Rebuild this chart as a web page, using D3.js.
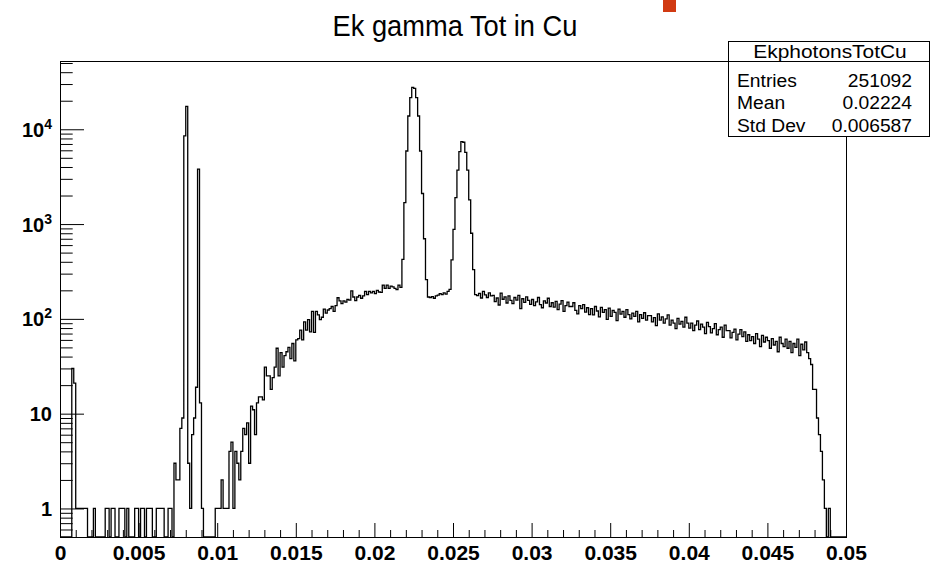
<!DOCTYPE html>
<html>
<head>
<meta charset="utf-8">
<script src="https://cdn.jsdelivr.net/npm/d3@7"></script>
<style>
  html, body { margin: 0; padding: 0; background: #fff; }
  svg { display: block; font-family: "Liberation Sans", Arial, Helvetica, sans-serif; }
</style>
</head>
<body>
<svg id="chart" width="930" height="564"></svg>
<script>
// ---- histogram definition -------------------------------------------------
const histTitle = "Ek gamma Tot in Cu";
const xRange = [0, 0.05];          // axis range of the histogram
const yRange = [0.5, 52500];       // log-scale display range

// bin contents, 400 equal bins over xRange
const counts = [
  // 0 - 57
  0, 0, 0, 0, 0, 0, 30, 21, 1, 1, 1, 1, 1, 1, 0, 0, 0, 1, 0, 0,
  0, 0, 0, 1, 1, 0, 1, 1, 0, 0, 1, 1, 1, 0, 1, 0, 0, 0, 1, 1,
  0, 1, 1, 0, 1, 1, 1, 0, 0, 1, 1, 1, 1, 0, 0, 1, 1, 0,
  // 58 - 72 : first narrow lines
  3, 2, 2, 7, 9, 8500, 17400, 3, 1, 6, 9, 19, 3800, 13, 1,
  // 73 - 103
  0, 0, 0, 0, 0, 0, 1, 1, 1, 2, 1, 1, 1,
  4, 5, 1, 4, 3, 2, 4, 7, 6, 8, 3, 12, 11, 6, 13, 15, 15, 14,
  // 104 - 173 : rising continuum
  31, 25, 25, 18, 24, 31, 49, 25, 44, 31, 41, 45, 50, 38, 55, 36, 60, 62, 76, 60,
  93, 76, 98, 73, 120, 72, 120, 110, 98, 104, 127, 115, 124, 128, 135, 120, 138, 167, 155, 145,
  155, 150, 160, 158, 197, 170, 156, 170, 177, 165, 175, 195, 180, 195, 188, 195, 185, 200, 192, 190,
  227, 210, 227, 210, 222, 218, 210, 203, 227, 215,
  // 174 - 186 : K-alpha peak
  424, 1683, 5900, 13800, 21600, 27600, 27000, 21600, 13800, 5900, 2100, 700, 260,
  // 187 - 198
  170, 168, 172, 165, 175, 178, 185, 180, 188, 182, 195, 205,
  // 199 - 211 : K-beta peak
  420, 880, 1900, 3700, 5800, 7400, 7300, 5700, 3700, 1800, 800, 330, 180,
  // 212 - 219
  176, 186, 166, 195, 179, 168, 188, 175,
  // 220 - 379 : falling continuum
  177, 152, 166, 140, 187, 161, 171, 147, 175, 157,
  145, 168, 158, 177, 128, 163, 149, 171, 157, 142,
  160, 138, 151, 168, 141, 131, 155, 147, 165, 135,
  148, 133, 153, 125, 143, 156, 120, 138, 150, 135,
  135, 148, 123, 113, 138, 128, 141, 118, 131, 111,
  128, 110, 135, 121, 105, 132, 117, 125, 99, 130,
  106, 123, 117, 96, 127, 112, 120, 104, 125, 111,
  100, 115, 106, 120, 93, 111, 101, 116, 97, 108,
  108, 93, 103, 85, 113, 97, 105, 90, 100, 110,
  86, 97, 90, 79, 101, 88, 94, 82, 104, 90,
  80, 90, 75, 86, 95, 77, 88, 82, 70, 92,
  83, 71, 79, 89, 68, 77, 82, 64, 86, 75,
  75, 63, 72, 78, 60, 69, 77, 65, 73, 58,
  68, 59, 65, 55, 70, 61, 51, 67, 57, 64,
  59, 49, 62, 53, 58, 45, 64, 55, 51, 61,
  49, 58, 44, 55, 50, 61, 41, 54, 47, 57,
  // 380 - 399 : end-point cut-off
  44, 38, 33, 18, 18, 9, 6, 4, 2, 1, 0, 1, 0, 0, 0, 0, 0, 0, 0, 0
];

// axis ticks
const xMajorTicks = [0, 0.005, 0.01, 0.015, 0.02, 0.025, 0.03, 0.035, 0.04, 0.045, 0.05];
const xTickLabels = ["0", "0.005", "0.01", "0.015", "0.02", "0.025", "0.03", "0.035", "0.04", "0.045", "0.05"];
const yMajorTicks = [1, 10, 100, 1000, 10000];
const yTickBases = ["1", "10", "10", "10", "10"];
const yTickExponents = ["", "", "2", "3", "4"];

// statistics box
const statsName = "EkphotonsTotCu";
const statsLabels = ["Entries", "Mean", "Std Dev"];
const statsValues = ["251092", "0.02224", "0.006587"];

// ---- layout ----------------------------------------------------------------
const svg = d3.select("#chart");
const frame = { left: 60, right: 846, top: 61, bottom: 537 };

const x = d3.scaleLinear().domain(xRange).range([frame.left, frame.right]);
const y = d3.scaleLog().domain(yRange).range([frame.bottom, frame.top]).clamp(true);

// minor tick positions
const xMinorTicks = d3.range(0, 51).map(i => i * 0.001).filter(v => !xMajorTicks.some(m => Math.abs(m - v) < 1e-9));
const yMinorTicks = [];
[0.1, 1, 10, 100, 1000, 10000].forEach(dec => {
  for (let k = 2; k <= 9; k++) {
    const v = dec * k;
    if (v >= yRange[0] && v <= yRange[1] && !yMajorTicks.includes(v)) yMinorTicks.push(v);
  }
});

// frame
svg.append("rect")
  .attr("x", frame.left + 0.5).attr("y", frame.top + 0.5)
  .attr("width", frame.right - frame.left).attr("height", frame.bottom - frame.top)
  .attr("fill", "none").attr("stroke", "#000").attr("stroke-width", 1);

// histogram outline (step line)
const nBins = counts.length;
const binW = (xRange[1] - xRange[0]) / nBins;
const pts = [];
counts.forEach((c, i) => {
  const yy = y(Math.max(c, yRange[0]));
  pts.push([x(xRange[0] + i * binW), yy]);
  pts.push([x(xRange[0] + (i + 1) * binW), yy]);
});
svg.append("path")
  .attr("d", d3.line()(pts))
  .attr("fill", "none")
  .attr("stroke", "#000")
  .attr("stroke-width", 1.3);

// x axis
const gx = svg.append("g").attr("transform", `translate(0,${frame.bottom})`);
gx.call(d3.axisBottom(x).tickValues(xMinorTicks).tickSize(-7).tickSizeOuter(0).tickFormat(""));
gx.append("g").call(d3.axisBottom(x).tickValues(xMajorTicks).tickSize(-14).tickSizeOuter(0)
  .tickFormat((d, i) => xTickLabels[i]));
gx.selectAll("line, path").attr("stroke", "#000");
gx.selectAll("text")
  .attr("y", 23).attr("dy", null)
  .attr("fill", "#000")
  .style("font-size", "21px").style("font-weight", "bold")
  .style("font-family", "'Liberation Sans', Arial, sans-serif");

// y axis
const gy = svg.append("g").attr("transform", `translate(${frame.left},0)`);
gy.call(d3.axisLeft(y).tickValues(yMinorTicks).tickSize(-12.7).tickSizeOuter(0).tickFormat(""));
gy.append("g").call(d3.axisLeft(y).tickValues(yMajorTicks).tickSize(-24).tickSizeOuter(0).tickFormat(""));
gy.selectAll("line, path").attr("stroke", "#000");

// y labels with exponent as superscript
yMajorTicks.forEach((v, i) => {
  const t = svg.append("text")
    .attr("x", 52).attr("y", y(v) + 7.5)
    .attr("text-anchor", "end")
    .style("font-size", "20px").style("font-weight", "bold")
    .attr("fill", "#000");
  t.append("tspan").text(yTickBases[i]);
  if (yTickExponents[i]) {
    t.append("tspan").attr("dy", -8).style("font-size", "14px").text(yTickExponents[i]);
  }
});

// title
svg.append("text")
  .attr("transform", "translate(455,36) scale(0.94,1)")
  .attr("text-anchor", "middle")
  .style("font-size", "29px")
  .attr("fill", "#000")
  .text(histTitle);

// small red marker above the pad
svg.append("rect")
  .attr("x", 663).attr("y", 0).attr("width", 13).attr("height", 12)
  .attr("fill", "#d13a12");

// statistics box
const box = { x: 728.5, y: 41.5, w: 201, h: 95, head: 20 };
svg.append("rect")
  .attr("x", box.x).attr("y", box.y).attr("width", box.w).attr("height", box.h)
  .attr("fill", "#fff").attr("stroke", "#000").attr("stroke-width", 1);
svg.append("line")
  .attr("x1", box.x).attr("x2", box.x + box.w)
  .attr("y1", box.y + box.head).attr("y2", box.y + box.head)
  .attr("stroke", "#000");

function stretched(txt, px, py, anchor, size, sx) {
  svg.append("text")
    .attr("transform", `translate(${px},${py}) scale(${sx},1)`)
    .attr("text-anchor", anchor)
    .style("font-size", size + "px")
    .attr("fill", "#000")
    .text(txt);
}
stretched(statsName, box.x + box.w / 2 + 1, 58, "middle", 19, 1.1);
statsLabels.forEach((lab, i) => {
  const base = 86.5 + i * 22.5;
  stretched(lab, 737, base, "start", 18, 1.07);
  stretched(statsValues[i], 912, base, "end", 18, 1.07);
});
</script>
</body>
</html>
